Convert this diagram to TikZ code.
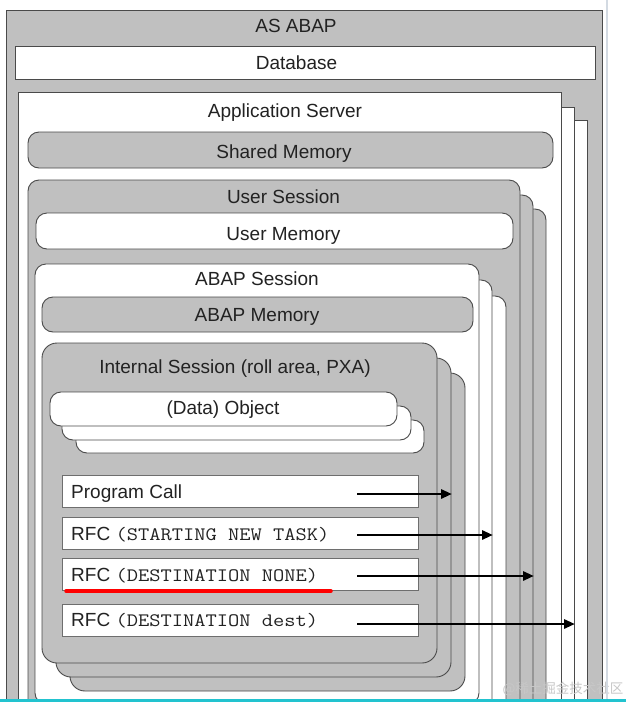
\documentclass[tikz,border=0pt]{standalone}
\usepackage{fontspec}
\setmainfont{Liberation Sans}
\newfontfamily\cjk{Noto Sans CJK SC}
\usetikzlibrary{arrows.meta}
\definecolor{boxgray}{HTML}{C0C0C0}
\definecolor{edge}{HTML}{4A4A4A}
\definecolor{cyanline}{HTML}{22C3CF}
\definecolor{framecol}{HTML}{D3DAE2}
\definecolor{txt}{HTML}{222222}
\tikzset{
  graybox/.style={draw=edge, fill=boxgray, line width=0.9pt},
  whitebox/.style={draw=edge, fill=white, line width=0.9pt},
  rnd/.style={rounded corners=11pt},
  rndbig/.style={rounded corners=15pt},
  lbl/.style={font=\fontsize{19}{22}\selectfont, text=txt, inner sep=0pt, anchor=base},
  callbox/.style={draw=edge!80, fill=white, line width=1.2pt, minimum width=356pt, minimum height=32pt, inner sep=0pt, anchor=north west},
  callarrow/.style={line width=2.8pt, -{Triangle[length=11pt,width=9pt]}},
}
\newcommand{\mono}[1]{\scalebox{1.15}[1]{\ttfamily\fontsize{19}{22}\selectfont #1}}
\begin{document}
\begin{tikzpicture}[x=1pt,y=-1pt]
\useasboundingbox (0,0) rectangle (626,702);
\fill[white] (0,0) rectangle (626,702);
\begin{scope}
\clip (0,0) rectangle (626,700);
% AS ABAP
\path[graybox] (6,10) rectangle (602,730);
\node[lbl] (asabap) at (296,32) {AS ABAP};
% Database
\path[whitebox] (15,46) rectangle (595,79);
\node[lbl] (db) at (296.5,69) {Database};
% Application Server stack
\path[whitebox] (44,120) rectangle (587,730);
\path[whitebox] (31,107) rectangle (574,730);
\path[whitebox] (18,92) rectangle (561,730);
\node[lbl] (appsrv) at (285,117) {Application Server};
% Shared Memory
\path[graybox,rnd] (28,132) rectangle (553,168);
\node[lbl] (shm) at (284,158) {Shared Memory};
% User Session stack
\path[graybox,rnd] (54,209) rectangle (546,740);
\path[graybox,rnd] (41,195) rectangle (533,740);
\path[graybox,rnd] (28,180) rectangle (520,740);
\node[lbl] (usess) at (283.5,203) {User Session};
% User Memory
\path[whitebox,rnd] (36,213) rectangle (513,249);
\node[lbl] (umem) at (283.5,240) {User Memory};
% ABAP Session stack
\path[whitebox,rnd] (62,296) rectangle (506,740);
\path[whitebox,rnd] (49,280) rectangle (492,740);
\path[whitebox,rnd] (35,264) rectangle (479,704);
\node[lbl] (asess) at (257,285) {ABAP Session};
% ABAP Memory
\path[graybox,rnd] (42,297) rectangle (473,332);
\node[lbl] (amem) at (257,321) {ABAP Memory};
% Internal Session stack
\path[graybox,rndbig] (70,373) rectangle (465,691);
\path[graybox,rndbig] (56,358) rectangle (451,677);
\path[graybox,rndbig] (42,343) rectangle (437,663);
\node[lbl] (isess) at (235,373) {Internal Session (roll area, PXA)};
% Data Object stack
\path[whitebox,rnd] (76,420) rectangle (424,453);
\path[whitebox,rnd] (62,406) rectangle (411,440);
\path[whitebox,rnd] (50,392) rectangle (397,426);
\node[lbl] (dobj) at (223,414) {(Data) Object};
% Call boxes
\node[callbox] (pc) at (62,475) {};
\node[callbox] (rfc1) at (62,517) {};
\node[callbox] (rfc2) at (62,558) {};
\node[callbox] (rfc3) at (62,604) {};
\node[lbl, anchor=base west] (pct) at (71,498) {Program Call};
\node[lbl, anchor=base west] (r1t) at (71,540) {RFC \mono{(STARTING NEW TASK)}};
\node[lbl, anchor=base west] (r2t) at (71,581) {RFC \mono{(DESTINATION NONE)}};
\node[lbl, anchor=base west] (r3t) at (71,626) {RFC \mono{(DESTINATION dest)}};
% arrows
\coordinate (a1s) at (357,494); \coordinate (a1e) at (452,494);
\coordinate (a2s) at (357,535); \coordinate (a2e) at (493,535);
\coordinate (a3s) at (357,576); \coordinate (a3e) at (534,576);
\coordinate (a4s) at (357,624); \coordinate (a4e) at (575,624);
\draw[callarrow] (a1s) -- (a1e);
\draw[callarrow] (a2s) -- (a2e);
\draw[callarrow] (a3s) -- (a3e);
\draw[callarrow] (a4s) -- (a4e);
% red underline
\coordinate (ul1) at (66,591); \coordinate (ul2) at (331,591);
\draw[red, line width=3.5pt, line cap=round] (ul1) -- (ul2);
% watermark
\node[font=\cjk\fontsize{13.5}{15}\selectfont, text=black!22, inner sep=0pt] (wm) at (563,689) {@稀土掘金技术社区};
\end{scope}
% screenshot frame
\draw[framecol, line width=1.5pt] (607,0) -- (607,699);
\draw[cyanline, line width=3pt] (0,700.5) -- (626,700.5);
\end{tikzpicture}
\end{document}
